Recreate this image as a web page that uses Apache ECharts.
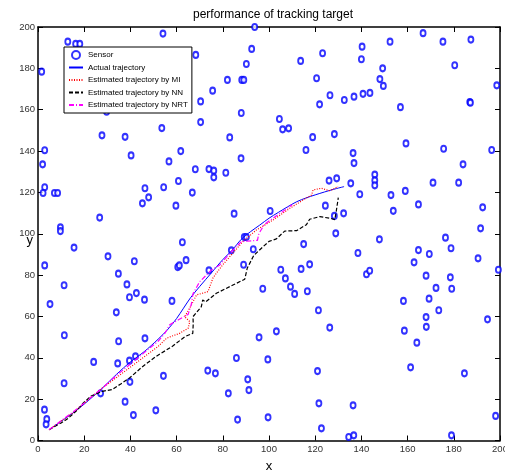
<!DOCTYPE html>
<html><head><meta charset="utf-8">
<script src="https://cdn.jsdelivr.net/npm/echarts@6/dist/echarts.min.js"></script>
<style>html,body{margin:0;padding:0;background:#fff}#c{width:505px;height:470px}</style>
</head><body><div id="c"></div>
<script>
var xTicks = [0,20,40,60,80,100,120,140,160,180,200];
var yTicks = [0,20,40,60,80,100,120,140,160,180,200];

var sensors = [
[12.9,192.9],[16.3,191.8],[18.1,191.8],[54.1,196.8],[93.8,200],[92.5,189.4],[68.3,186.5],[90.2,182.1],
[1.6,178.4],[82,174.4],[88.2,174.4],[89.1,174.4],[75.6,169.2],[70.4,164],[29.7,159],[88,158.4],
[70.4,154],[53.6,151.1],[27.7,147.6],[37.7,146.9],[83,146.6],[2.9,140.4],[61.8,140],[40.3,137.9],
[87.9,136.5],[56.7,135],[2,133.6],[68.1,131.2],[74,131.3],[76.1,130.5],[76.1,127.3],[81.3,129.5],
[60.8,125.5],[2.9,122.5],[46.3,122],[54.4,122.5],[2.2,119.7],[7.1,119.7],[8.5,119.7],[66.8,119.9],
[47.9,117.6],[45.2,114.7],[59.7,113.6],[84.9,109.7],[26.7,107.8],[100.5,111],[9.7,103.1],[9.7,101.3],
[166.7,197],[152.4,192.9],[175.3,192.9],[187.4,193.9],[140.3,190.5],[123.2,187.3],[113.7,183.6],[140,184.4],
[180.4,181.5],[149.2,180],[120.6,175.2],[148,174.8],[149.5,171.5],[198.6,171.8],[126.4,167],[132.6,164.7],
[136.8,166.3],[140.7,167.7],[143.7,168.1],[121.9,162.6],[156.9,161.2],[186.9,163.7],[187.2,163.4],[104.5,155.5],
[105.9,150.5],[108.5,151],[118.9,146.7],[128.3,148.2],[116,140.5],[159.3,143.7],[175.6,141.1],[196.4,140.5],
[136.4,139],[136.8,134.2],[184,133.6],[145.8,128.6],[145.8,125.8],[145.8,123.4],[126,125.7],[129.3,126.8],
[135.4,124.4],[171,124.7],[182.1,124.7],[139.3,119.1],[152.8,118.7],[159,120.7],[164.7,114.2],[192.5,112.8],
[124.4,113.6],[132.3,109.9],[128.3,108.6],[153.8,111.1],[191.6,102.6],[128.9,100.2],
[15.6,93.3],[30.3,89.1],[41.7,86.7],[62.5,95.9],[89.3,98.4],[90.2,98.4],[93.2,92.5],[2.9,84.7],
[34.8,80.7],[64.1,87.2],[60.5,83.9],[61.2,84.7],[83.7,92],[89,85],[74,82.3],[11.3,75.1],
[38.5,75.5],[42.6,71.3],[39.6,69.3],[46.1,68.1],[5.2,66],[58,67.5],[33.9,62],[97.3,73.4],
[11.4,50.9],[34.9,48],[46.3,49.4],[95.7,49.9],[24.1,38],[34.5,37.3],[39.6,38.6],[42.2,40.7],
[85.9,39.9],[99.5,39.2],[39.8,28.4],[54.3,31.3],[73.5,33.8],[76.8,32.5],[90.8,29.6],[91.3,24.4],
[82.4,22.8],[11.3,27.7],[27.1,22.8],[37.7,18.8],[2.8,14.9],[3.8,10.3],[3.5,7.8],[41.3,12.3],
[51,14.6],[86.4,10.1],[99.6,11.2],
[115,95],[147.8,97.3],[176.4,98.1],[178.8,93],[138.5,90.7],[164.7,92.1],[169.4,90.2],[162.8,86.2],
[190.5,88.1],[199.3,82.6],[105.1,82.6],[113.9,83],[117.6,85.2],[107.1,78.4],[109.3,74.4],[111.1,70.9],
[116.6,72.2],[142.2,80.4],[143.6,82.1],[168,79.7],[178.5,78.9],[172.3,73.8],[179.1,73.4],[158.2,67.5],
[169.3,68.6],[173.5,63],[121.4,63],[168,59.7],[168.1,55],[194.6,58.6],[103.2,52.8],[126.3,54.6],
[158.6,53.1],[164,47.3],[121,33.6],[161.3,35.4],[184.6,32.5],[121.6,18],[136.4,17],[198.1,11.9],
[122.7,5.9],[134.5,1.7],[136.7,2.5],[179,2.5]
];

var actualTraj = [
[4.8,5.2],[10,9.3],[16,14],[22,19.5],[28,25.5],[34,32],[40,38],[46,43],[52,49],[56,53.5],[60,59],
[63,64],[66,69],[70,74.5],[75,81],[80,87.5],[84,92],[88,97.3],[92,101],[96,104.2],[100,107.5],
[104,110.3],[108,113],[112,115.5],[116,117.3],[120,118.8],[124,120.2],[128,121.5],[132.5,122.8]
];

var miTraj = [
[4.8,5.2],[10,9.3],[16,14],[22,20],[28,25.5],[34,30.5],[40,35.5],[46,40.5],[52,45.5],[55.6,49.4],
[58,50.5],[61.3,51.8],[65,54.3],[65.7,57.5],[63.5,59.9],[66.4,65.5],[68.6,70.4],[73.6,72],[75.7,78.5],
[77.2,80.9],[80,85],[83,88.9],[88.7,96.2],[94.5,101.8],[101.7,106.6],[109,112.3],[114.7,116.3],
[118.4,118.7],[119.1,121.2],[122.7,122],[126.3,120.8],[129.9,122.8]
];

var nnTraj = [
[4.8,5.2],[10,8.5],[13,10.7],[16.3,14],[19.5,18],[23,21.5],[27.9,23.8],[32,24.6],[36,27.5],[39.6,30.2],
[45,35.5],[51,40.6],[58.2,45.6],[63.7,50.3],[67,51.8],[67.2,56.5],[67.1,59.9],[70.7,64.7],[71.3,68],
[72.5,67],[77.2,71.2],[84.4,75.2],[89.5,78],[90.6,83.4],[93.4,89.5],[97.4,93.7],[100,96.3],[103.2,97.5],
[106.8,101.3],[111.9,101.5],[116.2,104.4],[117.6,107],[122,108.3],[126.8,107.4],[128.5,106.8],
[129.2,111.5],[130,117.5]
];

var nrtTraj = [
[4.8,5.2],[10,9.6],[16,14.5],[22,20],[28,25.5],[34,31.5],[40,37],[46,42.5],[52,48],[55,52],[57,56],
[61,58.5],[65,61],[66.4,66],[67.1,71],[70,76.8],[75.1,82.5],[78.7,84.9],[83,90.5],[88,96.2],[95,96.8],
[95.6,100],[98,104.5],[101.7,107.5],[106,110.8],[110,114]
];

var FONT = "'Liberation Sans', Arial, sans-serif";

var hideSym = {color:'transparent', borderColor:'transparent', opacity:0};
var chart = echarts.init(document.getElementById('c'), null, {renderer:'canvas'});
var axisCommon = {
  type:'value', min:0, max:200, interval:20,
  axisLine:{show:true, onZero:false, lineStyle:{color:'#000', width:1.5}},
  axisTick:{show:true, inside:true, length:5, lineStyle:{color:'#000', width:1}},
  splitLine:{show:false}
};
chart.setOption({
  animation:false,
  backgroundColor:'#fff',
  title:{text:'performance of tracking target', left:268, top:4, textAlign:'center',
    textStyle:{fontFamily:FONT, fontSize:12, fontWeight:'normal', color:'#000'}},
  grid:{left:38, right:5, top:27, bottom:29.5, containLabel:false, outerBoundsMode:'none'},
  legend:{
    orient:'vertical', left:64, top:47, backgroundColor:'#fff', borderColor:'#000', borderWidth:1,
    padding:[3,4,3,4], itemGap:2.5, itemWidth:14, itemHeight:8,
    textStyle:{fontFamily:FONT, fontSize:8, color:'#000', lineHeight:10},
    data:[
      {name:'Sensor', itemStyle:{borderWidth:1}},
      {name:'Actual trajectory', itemStyle:hideSym},
      {name:'Estimated trajectory by MI', itemStyle:hideSym},
      {name:'Estimated trajectory by NN', itemStyle:hideSym},
      {name:'Estimated trajectory by NRT', itemStyle:hideSym}
    ]
  },
  xAxis:[
    Object.assign({}, axisCommon, {position:'bottom', name:'x', nameLocation:'middle', nameGap:19, nameMoveOverlap:false,
      nameTextStyle:{fontFamily:FONT, fontSize:13, color:'#000'},
      axisLabel:{fontFamily:FONT, fontSize:9.5, color:'#333', margin:4,
        formatter:function(v){return xTicks.indexOf(v)>=0?String(v):'';}}}),
    Object.assign({}, axisCommon, {position:'top', axisLabel:{show:false}})
  ],
  yAxis:[
    Object.assign({}, axisCommon, {position:'left', name:'y', nameLocation:'middle', nameGap:5, nameRotate:0, nameMoveOverlap:false,
      nameTextStyle:{fontFamily:FONT, fontSize:13, color:'#000', verticalAlign:'top'},
      axisLabel:{fontFamily:FONT, fontSize:9.5, color:'#333', margin:3,
        formatter:function(v){return yTicks.indexOf(v)>=0?String(v):'';}}}),
    Object.assign({}, axisCommon, {position:'right', axisLabel:{show:false}})
  ],
  series:[
    {name:'Sensor', type:'scatter', data:sensors, symbol:'emptyCircle', symbolSize:[5,6], clip:false,
      itemStyle:{color:'#0000ff', borderColor:'#0000ff', borderWidth:0.9}, z:2},
    {name:'Actual trajectory', type:'line', data:actualTraj, showSymbol:false, symbol:'none', smooth:0.3,
      lineStyle:{color:'#0000ff', width:1}, itemStyle:{color:'#0000ff'}, z:3},
    {name:'Estimated trajectory by MI', type:'line', data:miTraj, showSymbol:false, symbol:'none',
      lineStyle:{color:'#ff0000', width:1.2, type:[1,1.5]}, itemStyle:{color:'#ff0000'}, z:4},
    {name:'Estimated trajectory by NN', type:'line', data:nnTraj, showSymbol:false, symbol:'none',
      lineStyle:{color:'#000', width:1.2, type:[4,2]}, itemStyle:{color:'#000'}, z:4},
    {name:'Estimated trajectory by NRT', type:'line', data:nrtTraj, showSymbol:false, symbol:'none',
      lineStyle:{color:'#ff00ff', width:1.2, type:[5,2,1,2]}, itemStyle:{color:'#ff00ff'}, z:5}
  ]
});
</script></body></html>
